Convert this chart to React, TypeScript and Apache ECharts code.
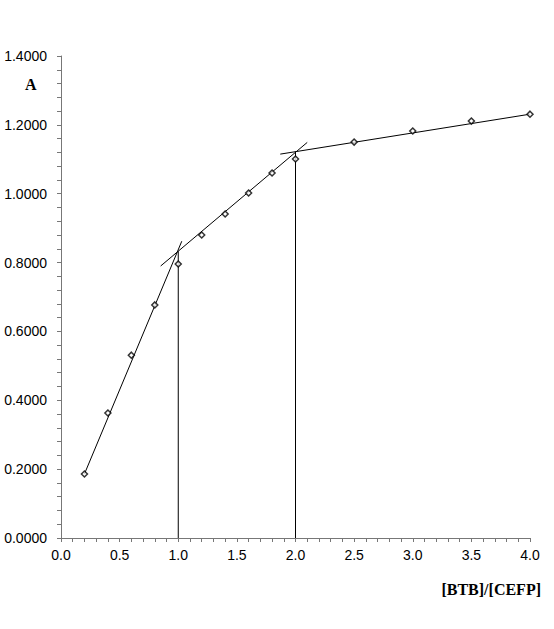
import React, { useEffect, useRef } from "react";
import * as echarts from "echarts";

const xValues = [0.2, 0.4, 0.6, 0.8, 1.0, 1.2, 1.4, 1.6, 1.8, 2.0, 2.5, 3.0, 3.5, 4.0];
const yValues = [0.186, 0.363, 0.531, 0.677, 0.796, 0.88, 0.941, 1.002, 1.06, 1.101, 1.15, 1.182, 1.211, 1.231];

const line1 = [[0.2, 0.186], [1.03, 0.862]];
const line2 = [[0.85, 0.79], [2.1, 1.149]];
const line3 = [[1.87, 1.115], [4.0, 1.231]];
const vertical1 = [[1.0, 0], [1.0, 0.833]];
const vertical2 = [[2.0, 0], [2.0, 1.122]];

const xAxisName = "[BTB]/[CEFP]";
const yAxisName = "A";

export default function App() {
  const ref = useRef<HTMLDivElement>(null);
  useEffect(() => {
    if (!ref.current) return;
    const chart = echarts.init(ref.current, null, { renderer: "svg" });
    const labelFont = { fontFamily: "Liberation Sans", fontSize: 14, color: "#000" };
    const axisCommon = {
      axisLine: { show: true, lineStyle: { color: "#777", width: 1 } },
      axisTick: { show: true, inside: false, length: 4, lineStyle: { color: "#777" } },
      minorTick: { show: true, splitNumber: 5, length: 4, lineStyle: { color: "#777" } },
      splitLine: { show: false },
    };
    const lineSeries = (data: number[][]) => ({
      type: "line",
      data,
      symbol: "none",
      lineStyle: { color: "#000", width: 1 },
      silent: true,
      z: 1,
    });
    chart.setOption({
      animation: false,
      backgroundColor: "#fff",
      grid: { left: 61, right: 24, top: 56, bottom: 91 },
      xAxis: {
        type: "value",
        min: 0,
        max: 4,
        interval: 0.5,
        ...axisCommon,
        axisLabel: { ...labelFont, margin: 10, formatter: (v: number) => v.toFixed(1) },
      },
      yAxis: {
        type: "value",
        min: 0,
        max: 1.4,
        interval: 0.2,
        ...axisCommon,
        axisLabel: { ...labelFont, margin: 14, formatter: (v: number) => v.toFixed(4) },
      },
      graphic: [
        {
          type: "text",
          left: 25,
          top: 76,
          style: { text: yAxisName, font: "bold 16px 'Liberation Serif'", fill: "#000" },
        },
        {
          type: "text",
          right: 13,
          top: 581,
          style: { text: xAxisName, font: "bold 16px 'Liberation Serif'", fill: "#000" },
        },
      ],
      series: [
        lineSeries(line1),
        lineSeries(line2),
        lineSeries(line3),
        lineSeries(vertical1),
        lineSeries(vertical2),
        {
          type: "scatter",
          data: xValues.map((x, i) => [x, yValues[i]]),
          symbol: "diamond",
          symbolSize: 6,
          itemStyle: { color: "#fff", borderColor: "#000", borderWidth: 1.5 },
          z: 3,
        },
      ],
    });
    return () => chart.dispose();
  }, []);
  return <div ref={ref} style={{ width: 554, height: 629, position: "absolute", left: 0, top: 0 }} />;
}
